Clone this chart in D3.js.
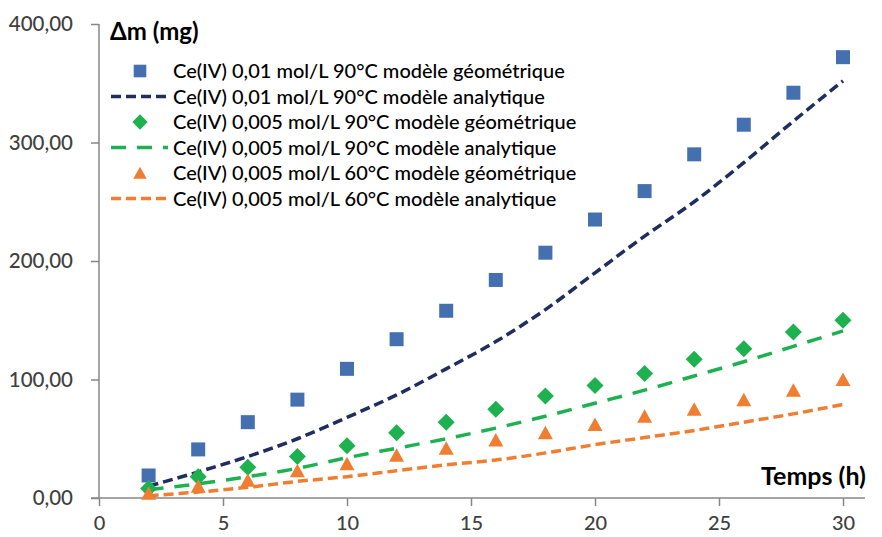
<!DOCTYPE html>
<html><head><meta charset="utf-8">
<script src="https://cdn.jsdelivr.net/npm/d3@7"></script>
<style>
html,body{margin:0;padding:0;background:#fff;}
svg{display:block;font-family:Lato,"Open Sans",sans-serif;}
</style></head>
<body>
<svg id="chart" width="882" height="537"></svg>
<script>
// ---- data ----
const times = [2,4,6,8,10,12,14,16,18,20,22,24,26,28,30];
const geo01_90   = [19,41,64,83,109,134,158,184,207,235,259,290,315,342,372];
const ana01_90   = [10,22,35,50,68,87,109,132,159,190,221,250,283,318,352];
const geo005_90  = [8,18,26,35,44,55,64,75,86,95,105,117,126,140,150];
const ana005_90  = [7,12,18,25,34,42,50,59,69,80,91,103,115,128,141];
const geo005_60  = [4,10,15,23,29,36,42,49,55,62,69,75,83,91,100];
const ana005_60  = [2,5,9,14,18,23,28,32,38,45,51,57,64,71,79];
const seriesNames = [
  "Ce(IV) 0,01 mol/L 90°C modèle géométrique",
  "Ce(IV) 0,01 mol/L 90°C modèle analytique",
  "Ce(IV) 0,005 mol/L 90°C modèle géométrique",
  "Ce(IV) 0,005 mol/L 90°C modèle analytique",
  "Ce(IV) 0,005 mol/L 60°C modèle géométrique",
  "Ce(IV) 0,005 mol/L 60°C modèle analytique"
];
const xTicks = [0,5,10,15,20,25,30];
const yTicks = [0,100,200,300,400];
const yTitle = "Δm (mg)";
const xTitle = "Temps (h)";

// ---- layout ----
const svg = d3.select("#chart");
const x = d3.scaleLinear().domain([0,30]).range([99,843]);
const y = d3.scaleLinear().domain([0,400]).range([498,24]);
const axisColor = "#878787";
const fr = d3.formatLocale({decimal:",",thousands:" ",grouping:[3],currency:["","€"]});
const yFmt = fr.format(".2f");

// y axis
const gy = svg.append("g").attr("transform","translate(99,0)")
  .call(d3.axisLeft(y).tickValues(yTicks).tickSize(8).tickPadding(18).tickFormat(yFmt));
gy.select(".domain").remove();
gy.append("line").attr("x1",0).attr("x2",0).attr("y1",y(400)).attr("y2",y(0))
  .attr("stroke",axisColor).attr("stroke-width",1.5);
gy.selectAll(".tick line").attr("stroke",axisColor).attr("stroke-width",1.5);
gy.selectAll(".tick text").attr("fill","#404040").attr("font-size",20.5).attr("font-weight",500)
  .attr("font-family","Lato, sans-serif");

// x axis
const gx = svg.append("g").attr("transform","translate(0,498)")
  .call(d3.axisBottom(x).tickValues(xTicks).tickSize(8).tickPadding(10));
gx.select(".domain").remove();
gx.append("line").attr("x1",91).attr("x2",865).attr("y1",0).attr("y2",0)
  .attr("stroke",axisColor).attr("stroke-width",1.5);
gx.selectAll(".tick line").attr("stroke",axisColor).attr("stroke-width",1.5);
gx.selectAll(".tick text").attr("fill","#404040").attr("font-size",20).attr("font-weight",500)
  .attr("font-family","Lato, sans-serif");

// titles
svg.append("text").attr("x",110).attr("y",40).attr("font-size",24).attr("font-weight","bold")
  .attr("fill","#000").text(yTitle);
svg.append("text").attr("x",866).attr("y",485).attr("text-anchor","end").attr("font-size",25)
  .attr("font-weight","bold").attr("fill","#000").text(xTitle);

// lines
const line = d3.line().x(d=>x(d[0])).y(d=>y(d[1])).curve(d3.curveMonotoneX);
const lineSpecs = [
  {vals:ana01_90,  color:"#1f2d5f", dash:"10,5"},
  {vals:ana005_90, color:"#1db14f", dash:"15,11"},
  {vals:ana005_60, color:"#ef7e32", dash:"10,5"}
];
lineSpecs.forEach(s=>{
  svg.append("path").datum(times.map((t,i)=>[t,s.vals[i]]))
    .attr("d",line).attr("fill","none").attr("stroke",s.color)
    .attr("stroke-width",3.5).attr("stroke-dasharray",s.dash);
});

// markers
const squarePath = "M-7,-7H7V7H-7Z";
const diamondPath = "M0,-8.5L8.5,0L0,8.5L-8.5,0Z";
const trianglePath = "M0,-7L7.5,6.5H-7.5Z";
const markerSpecs = [
  {vals:geo01_90,  color:"#4470b0", path:squarePath},
  {vals:geo005_90, color:"#1db14f", path:diamondPath},
  {vals:geo005_60, color:"#ef7e32", path:trianglePath}
];
markerSpecs.forEach(s=>{
  svg.append("g").selectAll("path").data(times.map((t,i)=>[t,s.vals[i]])).join("path")
    .attr("d",s.path).attr("fill",s.color)
    .attr("transform",d=>`translate(${x(d[0])},${y(d[1])})`);
});

// legend
const legendItems = [
  {type:"marker", spec:markerSpecs[0]},
  {type:"line", spec:lineSpecs[0]},
  {type:"marker", spec:markerSpecs[1]},
  {type:"line", spec:lineSpecs[1]},
  {type:"marker", spec:markerSpecs[2]},
  {type:"line", spec:lineSpecs[2]}
];
const lg = svg.append("g");
legendItems.forEach((it,i)=>{
  const cy = 71 + i*25.5;
  if(it.type==="marker"){
    lg.append("path").attr("d",it.spec.path).attr("fill",it.spec.color)
      .attr("transform",`translate(140,${cy}) scale(0.9)`);
  } else {
    lg.append("line").attr("x1",111).attr("x2",168).attr("y1",cy).attr("y2",cy)
      .attr("stroke",it.spec.color).attr("stroke-width",3.5).attr("stroke-dasharray",it.spec.dash);
  }
  lg.append("text").attr("x",173).attr("y",cy).attr("dy","0.35em")
    .attr("font-size",20).attr("font-weight",500).attr("fill","#000").text(seriesNames[i]);
});
</script>
</body></html>
